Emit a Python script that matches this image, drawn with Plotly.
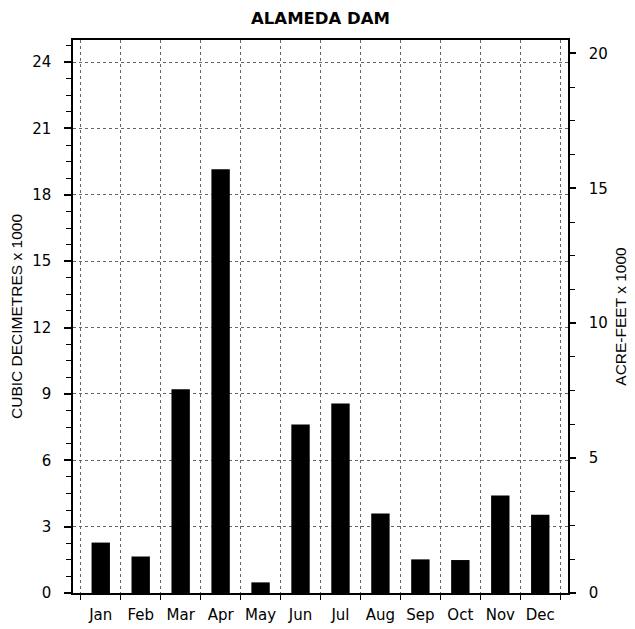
import plotly.graph_objects as go

months = ["Jan", "Feb", "Mar", "Apr", "May", "Jun", "Jul", "Aug", "Sep", "Oct", "Nov", "Dec"]
cubic_dm_k = [2.28, 1.65, 9.21, 19.16, 0.48, 7.62, 8.57, 3.59, 1.52, 1.49, 4.41, 3.54]

left_max = 25.0
right_max = 20.5
ratio = left_max / right_max
acre_feet_k = [v / ratio for v in cubic_dm_k]

fig = go.Figure()
fig.add_trace(go.Bar(x=months, y=cubic_dm_k, marker=dict(color="black", line=dict(width=0)),
                     yaxis="y", hoverinfo="x+y"))
fig.add_trace(go.Scatter(x=months, y=acre_feet_k, mode="markers", marker=dict(opacity=0, size=1),
                         yaxis="y2", hoverinfo="skip", showlegend=False))

tick_font = dict(family="DejaVu Sans", size=15, color="black")
xtick_font = dict(family="DejaVu Sans", size=15, color="black")
title_font = dict(family="Liberation Sans, Arial", size=15.5, color="black")

fig.update_layout(
    width=627, height=621,
    margin=dict(l=65, r=67, t=32, b=36),
    paper_bgcolor="white", plot_bgcolor="white",
    showlegend=False,
    bargap=0.54,
    title=dict(text="<b>ALAMEDA DAM</b>", x=0.5, xref="paper", xanchor="center",
               y=1 - 10.5 / 621, yref="container", yanchor="middle",
               font=dict(family="DejaVu Sans", size=16.5, color="black")),
    xaxis=dict(type="category", tickson="boundaries", ticks="outside", ticklen=5,
               tickcolor="black", tickwidth=1, tickangle=0, automargin=False,
               showgrid=True, gridcolor="#666", griddash="dot", gridwidth=1,
               showline=True, linecolor="black", linewidth=1.5, mirror=True,
               tickfont=xtick_font, ticklabelstandoff=7),
    yaxis=dict(range=[0, left_max], tick0=0, dtick=3, ticks="outside", ticklen=7,
               tickcolor="black", tickwidth=1.5, automargin=False,
               minor=dict(dtick=0.75, tick0=0, ticks="outside", ticklen=5, tickcolor="black",
                          tickwidth=1, showgrid=False),
               showgrid=True, gridcolor="#666", griddash="dot", gridwidth=1,
               zeroline=False, showline=True, linecolor="black", linewidth=1.5,
               tickfont=tick_font, ticklabelstandoff=10,
               title=dict(text="CUBIC DECIMETRES x 1000", font=title_font, standoff=10)),
    yaxis2=dict(range=[0, right_max], tick0=0, dtick=5, overlaying="y", side="right",
                ticks="outside", ticklen=6, tickcolor="black", tickwidth=1.5, automargin=False,
                minor=dict(dtick=1.25, tick0=0, ticks="outside", ticklen=5, tickcolor="black",
                           tickwidth=1, showgrid=False),
                showgrid=False, zeroline=False, showline=True, linecolor="black", linewidth=1.5,
                tickfont=tick_font, ticklabelstandoff=10,
                title=dict(text="ACRE-FEET x 1000", font=title_font, standoff=8)),
)

fig.write_html("out.html")
